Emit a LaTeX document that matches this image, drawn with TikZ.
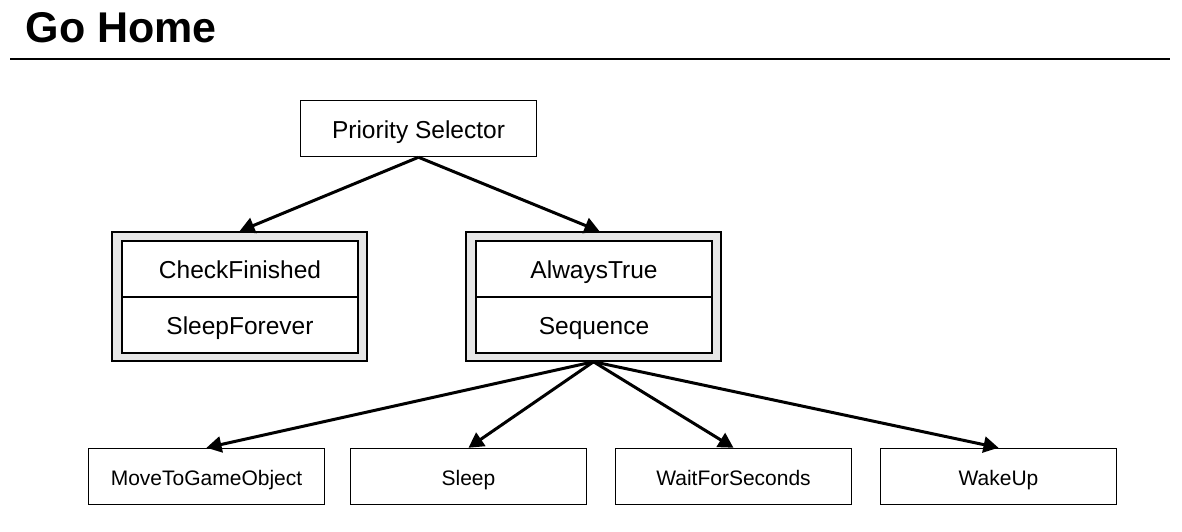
\documentclass[tikz,border=0pt]{standalone}
\usepackage{fontspec}
\setmainfont{Liberation Sans}
\usetikzlibrary{arrows.meta}

\tikzset{every picture/.style={line width=1.5pt}}
\tikzset{
  taskbox/.style={draw, fill=white, minimum width=236pt, minimum height=56pt, inner sep=0pt, text height=18pt, text depth=1pt, font=\fontsize{21}{25}\selectfont},
  topbox/.style={draw, fill=white, minimum width=236pt, minimum height=56pt, inner sep=0pt, text height=20.6pt, text depth=1pt, font=\fontsize{24.5}{29}\selectfont},
  groupbox/.style={draw, fill={rgb,255:red,230;green,230;blue,230}, minimum width=255pt, minimum height=129pt, inner sep=0pt},
  link/.style={line width=3pt, -{Triangle[length=15pt,width=16pt]}},
}

\begin{document}
\begin{tikzpicture}[x=1pt,y=1pt,yscale=-1,xscale=1]
	\useasboundingbox (0,0) rectangle (1182,532);
	
	% Text Node
	\node (title) [anchor=west, inner sep=0pt, font=\fontsize{43}{48}\selectfont\bfseries] at (25,28) {Go Home};
	%Shape: Line
	\draw (10,59) -- (1170,59);
	
	% Root
	\node (prio) [topbox] at (418.5,128.5) {Priority Selector};
	
	%Group: CheckFinished / SleepForever
	\node (checkGroup) [groupbox] at (239.5,296.5) {};
	\node (checkFinished) [topbox] at (240,269) {CheckFinished};
	\node (sleepForever) [topbox] at (240,325) {SleepForever};
	
	%Group: AlwaysTrue / Sequence
	\node (seqGroup) [groupbox] at (593.5,296.5) {};
	\node (alwaysTrue) [topbox] at (594,269) {AlwaysTrue};
	\node (sequence) [topbox] at (594,325) {Sequence};
	
	% Leaves
	\node (moveTo) [taskbox] at (206.5,476.5) {MoveToGameObject};
	\node (sleep) [taskbox] at (468.5,476.5) {Sleep};
	\node (waitFor) [taskbox] at (733.5,476.5) {WaitForSeconds};
	\node (wakeUp) [taskbox] at (998.5,476.5) {WakeUp};
	
	% Connection
	\draw [link] (prio.south) -- (checkGroup.north);
	\draw [link] (prio.south) -- ([xshift=6pt]seqGroup.north);
	% Connection
	\draw [link] (seqGroup.south) -- (moveTo.north);
	\draw [link] (seqGroup.south) -- (sleep.north);
	\draw [link] (seqGroup.south) -- (waitFor.north);
	\draw [link] (seqGroup.south) -- (wakeUp.north);
	
\end{tikzpicture}
\end{document}
